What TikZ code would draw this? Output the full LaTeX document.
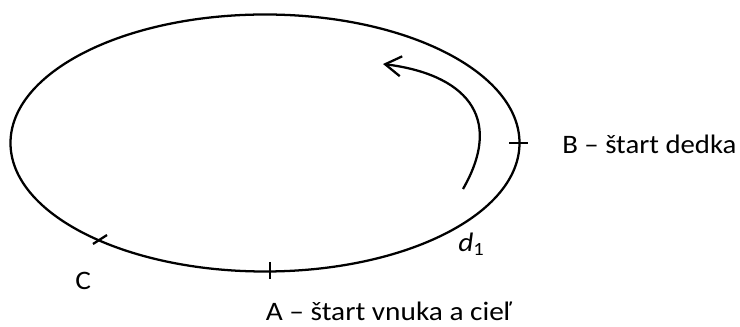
\documentclass[tikz,border=0pt]{standalone}
\usepackage{fontspec}
\usepackage{graphicx}
\setmainfont{Carlito}
\usetikzlibrary{arrows.meta}
\tikzset{
  track/.style={line width=1.7pt},
  tickmark/.style={line width=1.7pt},
  motion/.style={line width=1.7pt,-{Straight Barb[length=12pt,width=15pt,line width=1.7pt]}},
  lbl/.style={anchor=base west,inner sep=0pt,font=\fontsize{20pt}{24pt}\selectfont}
}
\begin{document}
\begin{tikzpicture}[x=0.75pt,y=-0.75pt]
\useasboundingbox (0,0) rectangle (740,327);
\draw[track] (265,143) ellipse [x radius=254.5, y radius=128.5];
% ticks
\draw[tickmark] (509,143) -- (528,143);
\draw[tickmark] (270,262) -- (270,279);
\draw[tickmark] (93,244) -- (107,235);
% arrow
\coordinate (s) at (463,189);
\coordinate (e) at (383,64);
\draw[motion] (s) .. controls (505.5,115) and (463,74) .. (e);
% labels
\node[lbl] (B) at (562,153.5) {\scalebox{1.08}[1]{B – štart dedka}};
\node[lbl] (A) at (265.5,321) {\scalebox{1.1}[1]{A – štart vnuka a cieľ}};
\node[lbl] (C) at (75,290) {\scalebox{1.1}[1]{C}};
\node[lbl] (d) at (458,251.7) {\scalebox{1.1}[1]{\textit{d}\textsubscript{1}}};
\end{tikzpicture}
\end{document}
